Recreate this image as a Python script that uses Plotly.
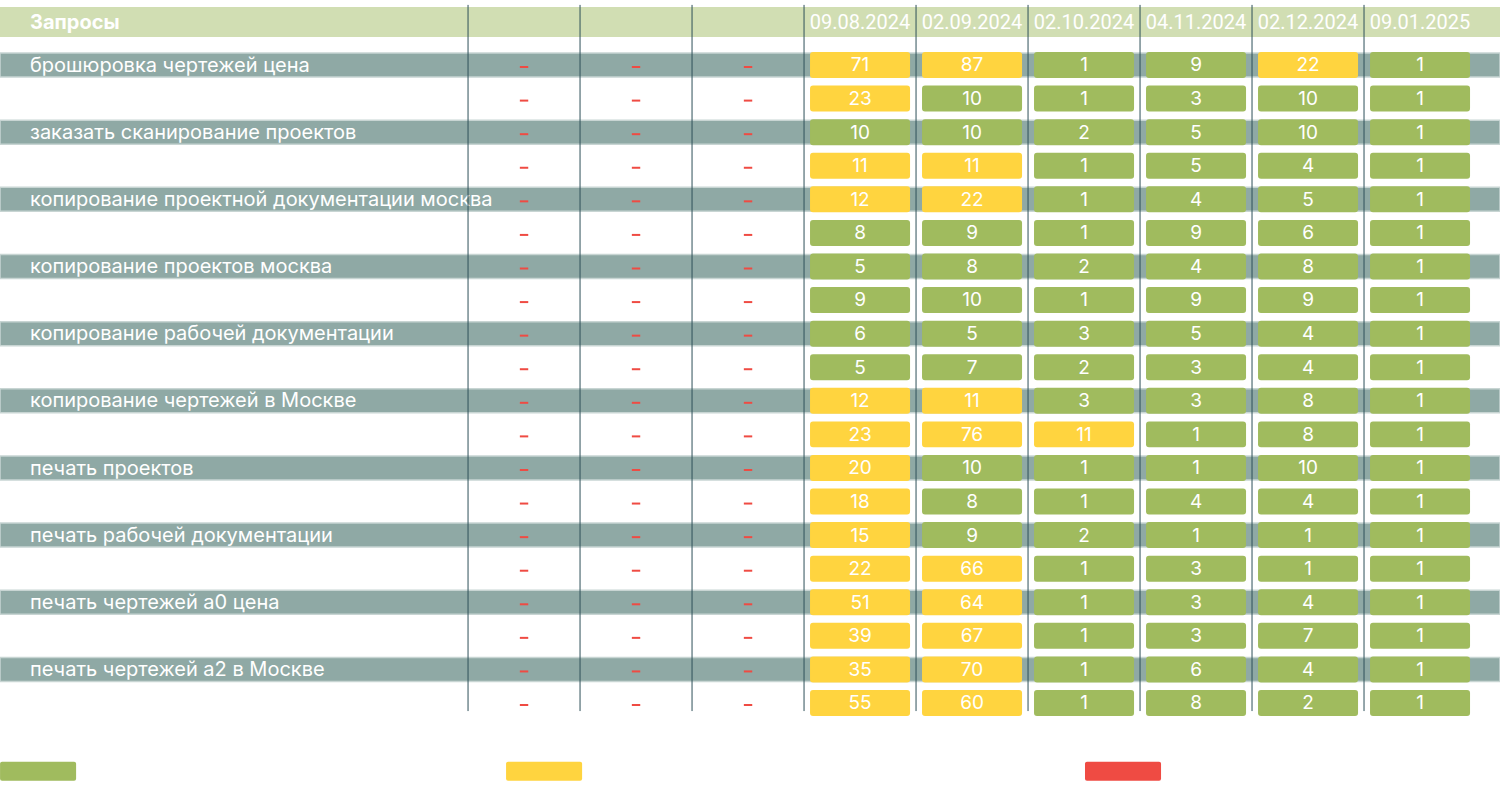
import plotly.graph_objects as go

# Table contents
dates = ["09.08.2024", "02.09.2024", "02.10.2024", "04.11.2024", "02.12.2024", "09.01.2025"]
queries = [
    "брошюровка чертежей цена", "",
    "заказать сканирование проектов", "",
    "копирование проектной документации москва", "",
    "копирование проектов москва", "",
    "копирование рабочей документации", "",
    "копирование чертежей в Москве", "",
    "печать проектов", "",
    "печать рабочей документации", "",
    "печать чертежей а0 цена", "",
    "печать чертежей а2 в Москве", "",
]
positions = [
    [71, 87, 1, 9, 22, 1],
    [23, 10, 1, 3, 10, 1],
    [10, 10, 2, 5, 10, 1],
    [11, 11, 1, 5, 4, 1],
    [12, 22, 1, 4, 5, 1],
    [8, 9, 1, 9, 6, 1],
    [5, 8, 2, 4, 8, 1],
    [9, 10, 1, 9, 9, 1],
    [6, 5, 3, 5, 4, 1],
    [5, 7, 2, 3, 4, 1],
    [12, 11, 3, 3, 8, 1],
    [23, 76, 11, 1, 8, 1],
    [20, 10, 1, 1, 10, 1],
    [18, 8, 1, 4, 4, 1],
    [15, 9, 2, 1, 1, 1],
    [22, 66, 1, 3, 1, 1],
    [51, 64, 1, 3, 4, 1],
    [39, 67, 1, 3, 7, 1],
    [35, 70, 1, 6, 4, 1],
    [55, 60, 1, 8, 2, 1],
]
empty_cols = 3  # columns with "-" only

GREEN = "#a0bb5e"
YELLOW = "#ffd43f"
RED = "#ef4b43"
legend_colors = [GREEN, YELLOW, RED]

def cell_color(v):
    if v <= 10:
        return GREEN
    if v <= 100:
        return YELLOW
    return RED

n_rows = len(queries)
X_MIN, X_MAX = -4.679, 8.714
Y_TOP, Y_BOT = -1.936, 21.68
CELL_H = 0.774
BAND_H = 0.715
TXT_DY = 0.05  # nudge text down a little

fig = go.Figure()

# value cells
xs, bases, cols, txt, ys = [], [], [], [], []
for r, row in enumerate(positions):
    for c, v in enumerate(row):
        xs.append(empty_cols + c)
        bases.append(r - CELL_H / 2)
        cols.append(cell_color(v))
        txt.append(str(v))
        ys.append(r + TXT_DY)

fig.add_trace(go.Bar(
    x=xs, y=[CELL_H] * len(xs), base=bases, width=0.893,
    marker=dict(color=cols, line=dict(width=0), cornerradius=3),
    hoverinfo="skip", showlegend=False,
))
fig.add_trace(go.Scatter(
    x=xs, y=ys, mode="text", text=txt,
    textfont=dict(family="Inter", size=19, color="white"),
    hoverinfo="skip", showlegend=False,
))

# dashes in the empty columns
dx, dy = [], []
for r in range(n_rows):
    for c in range(empty_cols):
        dx.append(c)
        dy.append(r + 0.06)
fig.add_trace(go.Scatter(
    x=dx, y=dy, mode="markers",
    marker=dict(symbol="line-ew", size=6, line=dict(width=2, color=RED)),
    hoverinfo="skip", showlegend=False,
))

# query labels
fig.add_trace(go.Scatter(
    x=[X_MIN + 30 / 112] * n_rows, y=[r + TXT_DY for r in range(n_rows)],
    mode="text", text=queries, textposition="middle right",
    textfont=dict(family="Inter", size=20, color="white"),
    hoverinfo="skip", showlegend=False,
))

# header
HEADER_Y = -1.28 + TXT_DY
fig.add_trace(go.Scatter(
    x=[X_MIN + 30 / 112], y=[HEADER_Y], mode="text", text=["<b>Запросы</b>"],
    textposition="middle right",
    textfont=dict(family="Inter", size=20, color="white"),
    hoverinfo="skip", showlegend=False,
))
fig.add_trace(go.Scatter(
    x=[empty_cols + i for i in range(len(dates))], y=[HEADER_Y] * len(dates),
    mode="text", text=dates,
    textfont=dict(family="Roboto", size=20, color="white"),
    hoverinfo="skip", showlegend=False,
))

# legend swatches
LEG_Y = 21.03
leg_x = [-4.339, 0.179, 5.348]
fig.add_trace(go.Bar(
    x=leg_x, y=[0.566] * 3, base=[LEG_Y - 0.283] * 3, width=0.679,
    marker=dict(color=legend_colors, line=dict(width=0), cornerradius=2),
    hoverinfo="skip", showlegend=False,
))

shapes = [dict(type="rect", xref="x", yref="y", x0=X_MIN, x1=X_MAX,
               y0=-1.727, y1=-0.834, fillcolor="#d1deb3",
               line=dict(width=0), layer="below")]
for r in range(0, n_rows, 2):
    shapes.append(dict(type="rect", xref="x", yref="y", x0=X_MIN, x1=X_MAX,
                       y0=r - BAND_H / 2, y1=r + BAND_H / 2, fillcolor="#8fa9a5",
                       line=dict(width=1.5, color="#c8d5d3"), layer="below"))
for k in range(empty_cols + len(dates)):
    shapes.append(dict(type="line", xref="x", yref="y", x0=k - 0.5, x1=k - 0.5,
                       y0=-1.79, y1=19.24, line=dict(color="#2d4f59", width=1),
                       layer="above"))

fig.update_layout(
    width=1500, height=793,
    margin=dict(l=0, r=0, t=0, b=0),
    paper_bgcolor="white", plot_bgcolor="white",
    barmode="overlay",
    shapes=shapes,
    xaxis=dict(range=[X_MIN, X_MAX], visible=False, fixedrange=True),
    yaxis=dict(range=[Y_BOT, Y_TOP], visible=False, fixedrange=True),
)

fig.write_html("out.html", config={"displayModeBar": False},
               post_script="document.body.style.margin='0';")
